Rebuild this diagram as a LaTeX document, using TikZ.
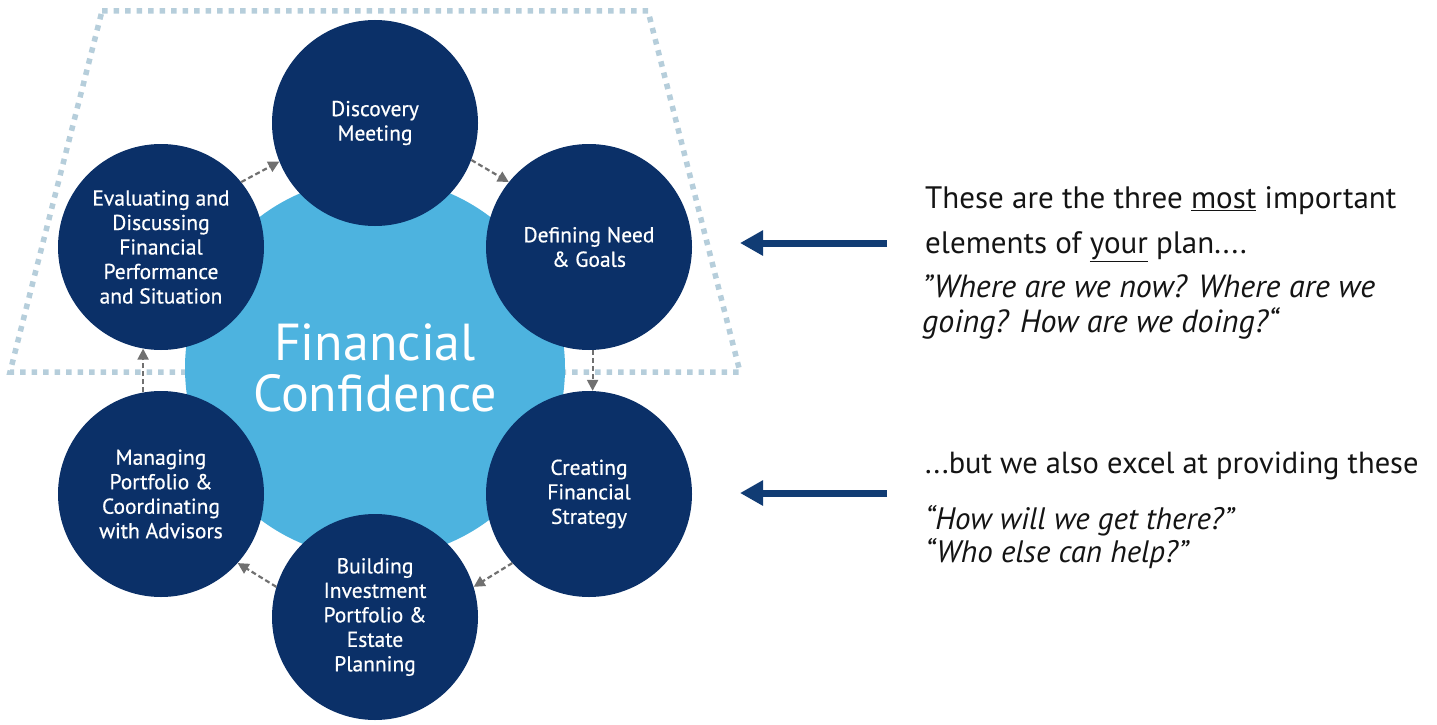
\documentclass[tikz,border=0pt]{standalone}
\usepackage{fontspec}
\setmainfont{PT Sans}
\newfontfamily\stagefont[FakeBold=0.6]{PT Sans}
\usetikzlibrary{arrows.meta}

\definecolor{navy}{HTML}{0B3068}
\definecolor{skyblue}{HTML}{4DB3DF}
\definecolor{dotgrey}{HTML}{B6CEDB}
\definecolor{arrgrey}{HTML}{707070}
\definecolor{arrnavy}{HTML}{113C74}
\definecolor{ink}{HTML}{141414}

\begin{document}
\begin{tikzpicture}[x=1pt,y=-1pt,
  stage/.style={circle, fill=navy, minimum size=206pt, inner sep=0pt, text=white,
    align=center, font=\stagefont\fontsize{21.5}{24.5}\selectfont},
  flow/.style={arrgrey, line width=2.2pt, dash pattern=on 5pt off 3pt,
    -{Triangle[length=11pt,width=11pt]}},
  pointer/.style={arrnavy, line width=7pt, -{Triangle[length=23pt,width=24pt]}},
  note/.style={anchor=north west, inner sep=0pt, align=left, text=ink}]

\useasboundingbox (0,0) rectangle (1437,725);

%% Dotted frame round the top three
\draw [dotgrey, line width=5.5pt, dash pattern=on 5.5pt off 6pt]
  (102,11) -- (648,11) -- (740,372) -- (10,372) -- cycle;

%% Centre
\node [circle, fill=skyblue, minimum size=380pt, inner sep=0pt, text=white,
  align=center, font=\fontsize{52}{51}\selectfont] (core) at (375,368) {Financial\\Confidence};

%% Stages
\node [stage] (disc) at (375,123) {Discovery\\Meeting};
\node [stage] (need) at (589,247) {Defining Need\\\& Goals};
\node [stage] (strat) at (589,494) {Creating\\Financial\\Strategy};
\node [stage] (build) at (375,617) {Building\\Investment\\Portfolio \&\\Estate\\Planning};
\node [stage] (manage) at (161,494) {Managing\\Portfolio \&\\Coordinating\\with Advisors};
\node [stage] (eval) at (161,247) {Evaluating and\\Discussing\\Financial\\Performance\\and Situation};

%% Flow between stages
\draw [flow] (eval.39) -- (disc.202);
\draw [flow] (disc.-21) -- (need.141);
\draw [flow] (need.-88) -- (strat.88);
\draw [flow] (strat.222) -- (build.17);
\draw [flow] (build.163) -- (manage.-42);
\draw [flow] (manage.100) -- (eval.260);

%% Pointers
\coordinate (tailA) at (887,243);
\coordinate (tipA) at (740,243);
\draw [pointer] (tailA) -- (tipA);

\coordinate (tailB) at (887,493);
\coordinate (tipB) at (740,493);
\draw [pointer] (tailB) -- (tipB);

%% Notes
\node [note, font=\fontsize{31}{45}\selectfont] (most) at (925,186)
  {These are the three \underline{most} important\\elements of \underline{your} plan....};
\node [note, font=\fontsize{32}{35}\selectfont\itshape] (askA) at (922,275)
  {”Where are we now? Where are we\\going? How are we doing?“};
\node [note, font=\fontsize{30.5}{35}\selectfont] (excel) at (925,452)
  {...but we also excel at providing these};
\node [note, font=\fontsize{31}{33}\selectfont\itshape] (askB) at (925,505)
  {“How will we get there?”\\“Who else can help?”};

\end{tikzpicture}
\end{document}
